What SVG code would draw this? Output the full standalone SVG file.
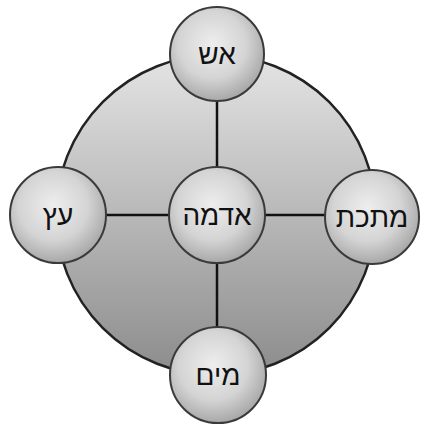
<svg xmlns="http://www.w3.org/2000/svg" width="424" height="425" viewBox="0 0 424 425">
<defs>
<linearGradient id="big" x1="0" y1="0" x2="0" y2="1">
<stop offset="0" stop-color="#e4e4e4"/>
<stop offset="1" stop-color="#8c8c8c"/>
</linearGradient>
<radialGradient id="node" cx="0.45" cy="0.4" r="0.6">
<stop offset="0" stop-color="#eeeeee"/>
<stop offset="0.6" stop-color="#d4d4d4"/>
<stop offset="1" stop-color="#a8a8a8"/>
</radialGradient>
</defs>
<style>
.n{fill:url(#node);stroke:#3a3a3a;stroke-width:2}
.t{font-family:"Liberation Sans","DejaVu Sans",sans-serif;font-size:28px;fill:#111;text-anchor:middle;dominant-baseline:central}
.c{stroke:#111;stroke-width:2.5}
</style>
<rect width="424" height="425" fill="#fff"/>
<circle cx="216" cy="215" r="160" fill="url(#big)" stroke="#222" stroke-width="2.5"/>
<g id="connectors">
<line class="c" x1="217" y1="100" x2="217" y2="167"/>
<line class="c" x1="106" y1="215" x2="169" y2="215"/>
<line class="c" x1="265" y1="215" x2="325" y2="215"/>
<line class="c" x1="217" y1="263" x2="217" y2="328"/>
</g>
<g id="fire"><circle class="n" cx="217" cy="54" r="47"/><text class="t" x="217" y="54">אש</text></g>
<g id="wood"><circle class="n" cx="58" cy="215" r="48"/><text class="t" x="58" y="215">עץ</text></g>
<g id="earth"><circle class="n" cx="217" cy="215" r="48"/><text class="t" x="217" y="215">אדמה</text></g>
<g id="metal"><circle class="n" cx="372" cy="217" r="47"/><text class="t" x="372" y="217">מתכת</text></g>
<g id="water"><circle class="n" cx="218" cy="375" r="48"/><text class="t" x="218" y="375">מים</text></g>
</svg>
